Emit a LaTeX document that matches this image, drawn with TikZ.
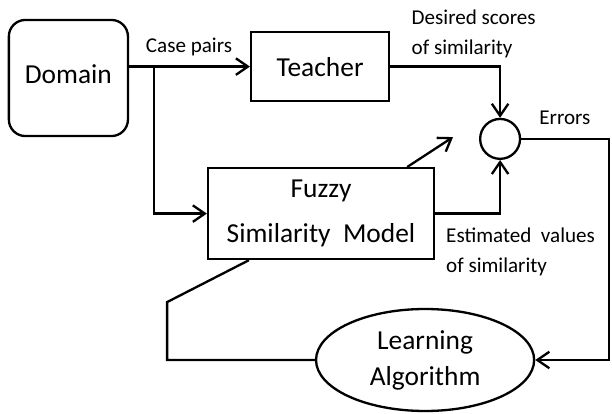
\documentclass[tikz,border=0pt]{standalone}
\usepackage{fontspec}
\setmainfont{Carlito}
\usetikzlibrary{arrows.meta, positioning, shapes.geometric}

\begin{document}
\begin{tikzpicture}[
        flow/.style={line width=2.2pt, -{Straight Barb[length=4mm, width=5.5mm, line width=2.2pt]}},
        plain/.style={line width=2.2pt},
        block/.style={rectangle, draw, line width=2.2pt, align=center, font=\fontsize{26}{30}\selectfont},
        domainbox/.style={block, rounded corners=0.55cm, minimum width=3.97cm, minimum height=3.87cm},
        sumnode/.style={circle, draw, line width=2.2pt, minimum size=1.33cm, inner sep=0pt},
        learnnode/.style={ellipse, draw, line width=2.2pt, minimum width=7.27cm, minimum height=3.4cm, align=center, font=\fontsize{26}{30}\selectfont},
        note/.style={align=left, font=\fontsize{20}{28}\selectfont}
    ]
    \useasboundingbox (0,0) rectangle (20.4,-13.77);

    % 方框
    \node[domainbox] (domain) at (2.28,-2.6) {\raisebox{0.25cm}{Domain}};
    \node[block, minimum width=4.6cm, minimum height=2.3cm] (teacher) at (10.67,-2.22) {Teacher};
    \node[block, minimum width=7.53cm, minimum height=3.03cm] (fsm) at (10.7,-7.12) {Fuzzy\\[0.45cm]Similarity~~Model};
    \node[sumnode] (sum) at (16.67,-4.63) {};
    \node[learnnode] (learn) at (14.17,-12) {Learning\\[0.15cm]Algorithm};

    % 辅助点
    \coordinate (split) at ([xshift=0.835cm]domain.east |- teacher.west);
    \coordinate (rightedge) at (20.3,-12);
    \coordinate (knee) at (5.57,-10.07);
    \coordinate (tune) at (15.1,-4.57);

    % 连线
    \draw[flow] (domain.east |- teacher.west) -- (teacher.west);
    \draw[flow] (split) |- (fsm.west);
    \draw[flow] (teacher.east) -| (sum.north);
    \draw[flow] (fsm.east) -| (sum.south);
    \draw[flow] (sum.east) -| (rightedge) -- (learn.east);
    \draw[plain] (learn.west) -| (knee) -- ([xshift=1.4cm]fsm.south west);
    \draw[flow] ([xshift=-0.93cm]fsm.north east) -- (tune);

    % 标注
    \node[note] (caselbl) at (6.3,-1.57) {Case pairs};
    \node[note, anchor=west] (desiredlbl) at (13.6,-1.13) {Desired scores\\of similarity};
    \node[note] (errlbl) at (18.83,-3.93) {Errors};
    \node[note, anchor=west] (estlbl) at (14.75,-8.4) {Estimated~~values\\of similarity};

\end{tikzpicture}
\end{document}
